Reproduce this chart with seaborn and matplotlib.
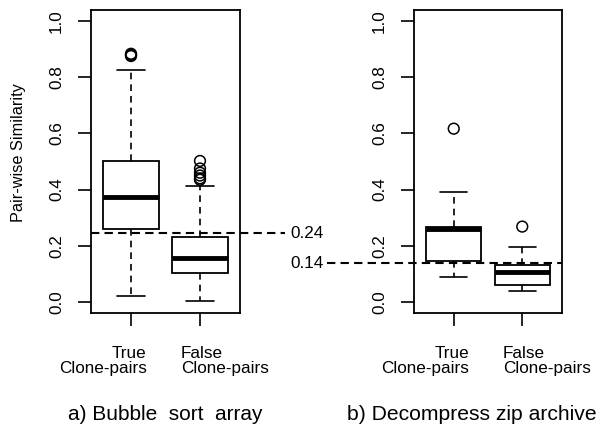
import numpy as np
import pandas as pd
import matplotlib
matplotlib.use("Agg")
import matplotlib.pyplot as plt
import matplotlib.transforms as mtransforms
import seaborn as sns

sns.set_style("white")
plt.rcParams['font.family'] = ['Liberation Sans', 'DejaVu Sans']
plt.rcParams['text.color'] = 'black'
plt.rcParams['xtick.color'] = 'black'
plt.rcParams['ytick.color'] = 'black'

# box statistics: whislo, q1, med, q3, whishi
groups = ["True\nClone-pairs", "False\nClone-pairs"]
bubble_stats = [[0.021, 0.259, 0.373, 0.501, 0.826],
                [0.004, 0.104, 0.155, 0.232, 0.414]]
bubble_out = [[0.876, 0.880, 0.884], [0.502, 0.475, 0.46, 0.45, 0.44, 0.435]]
zip_stats = [[0.089, 0.146, 0.261, 0.268, 0.392],
             [0.039, 0.060, 0.107, 0.131, 0.195]]
zip_out = [[0.617], [0.268]]
thresholds = [0.245, 0.137]
threshold_labels = ["0.24", "0.14"]
titles = ["a) Bubble  sort  array", "b) Decompress zip archive"]

fig = plt.figure(figsize=(6, 4.29), dpi=100)
ax1 = fig.add_axes([91/600, 1-313/429, 149/600, 303/429])
ax2 = fig.add_axes([414/600, 1-313/429, 148/600, 303/429])


def draw_panel(ax, stats, outs):
    bx = []
    for s in stats:
        bx.append(dict(whislo=s[0], q1=s[1], med=s[2], q3=s[3], whishi=s[4], fliers=[]))
    ax.bxp(bx, positions=[1, 2], widths=0.8, capwidths=0.4, patch_artist=True,
           boxprops=dict(facecolor='white', edgecolor='black', linewidth=1.3),
           medianprops=dict(color='black', linewidth=3.5, solid_capstyle='butt'),
           whiskerprops=dict(color='black', linewidth=1.2, linestyle=(0, (4, 3))),
           capprops=dict(color='black', linewidth=1.2), zorder=2)
    df = pd.DataFrame({'x': [i + 1 for i, o in enumerate(outs) for _ in o],
                       'y': [v for o in outs for v in o]})
    sns.scatterplot(data=df, x='x', y='y', ax=ax, marker='o', s=60,
                    facecolor='none', edgecolor='black', linewidth=1.1, zorder=3)
    ax.set_xlim(0.42, 2.58)
    ax.set_ylim(-0.04, 1.04)
    ax.set_yticks([0.0, 0.2, 0.4, 0.6, 0.8, 1.0])
    ax.set_yticklabels(["0.0", "0.2", "0.4", "0.6", "0.8", "1.0"])
    ax.set_xticks([1, 2])
    ax.set_xticklabels([])
    ax.set_xlabel("")
    ax.set_ylabel("")
    ax.tick_params(axis='y', labelrotation=90, length=9.5, width=1.2, pad=10,
                   labelsize=12.3, left=True)
    ax.tick_params(axis='x', length=9.5, width=1.2, bottom=True)
    for sp in ax.spines.values():
        sp.set_linewidth(1.3)
        sp.set_color('black')
    for lab in ax.get_yticklabels():
        lab.set_va('center')
    tr = mtransforms.blended_transform_factory(ax.transData, fig.transFigure)
    t, f = groups[0], groups[1]
    fig.text(1.23, 1-346/429, t, transform=tr, ha='right', va='top',
             multialignment='right', fontsize=12.3, linespacing=1.0)
    fig.text(1.72, 1-346/429, f, transform=tr, ha='left', va='top',
             multialignment='left', fontsize=12.3, linespacing=1.0)


draw_panel(ax1, bubble_stats, bubble_out)
draw_panel(ax2, zip_stats, zip_out)

# threshold lines
dash = (0, (4, 2.5))
ax1.plot([0, 1.30], [thresholds[0]] * 2, transform=ax1.get_yaxis_transform(),
         color='black', lw=1.5, linestyle=dash, clip_on=False, zorder=4)
ax2.plot([-0.59, 1.0], [thresholds[1]] * 2, transform=ax2.get_yaxis_transform(),
         color='black', lw=1.5, linestyle=dash, clip_on=False, zorder=4)
tr1 = mtransforms.blended_transform_factory(fig.transFigure, ax1.transData)
fig.text(290/600, thresholds[0], threshold_labels[0], transform=tr1,
         ha='left', va='center', fontsize=12.3)
fig.text(290/600, thresholds[1], threshold_labels[1], transform=tr1,
         ha='left', va='center', fontsize=12.3)

fig.text(19/600, 1-153/429, "Pair-wise Similarity", rotation=90,
         ha='center', va='center', fontsize=11.7)
fig.text(165.5/600, 1-414/429, titles[0], ha='center', va='center', fontsize=15)
fig.text(347/600, 1-414/429, titles[1], ha='left', va='center', fontsize=15.2)

fig.savefig("out.png", dpi=100)
